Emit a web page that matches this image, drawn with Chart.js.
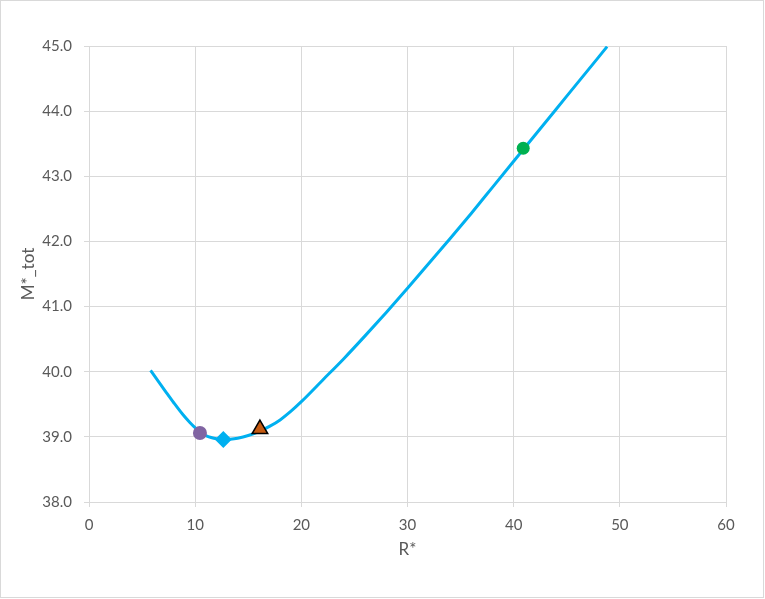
<!DOCTYPE html>
<html>
<head>
<meta charset="utf-8">
<script src="https://cdn.jsdelivr.net/npm/chart.js@4.4.1/dist/chart.umd.min.js"></script>
<style>
  html, body { margin: 0; padding: 0; background: #fff; }
  #wrap { position: relative; width: 765px; height: 599px; }
</style>
</head>
<body>
<div id="wrap"><canvas id="grafico"></canvas></div>
<script>
// curve
var rValues = [5.8, 6.5, 7.2, 8.0, 8.8, 9.5, 10.0, 10.5, 11.0, 11.5, 12.0, 12.65, 13.3, 14.0, 15.0, 16.0, 17.0, 18.0, 19.0, 20.0,
  22.0, 24.0, 26.0, 28.0, 30.0, 32.0, 34.0, 36.0, 38.0, 40.0, 42.0, 44.0, 46.0, 48.0, 48.8];
var mValues = [40.02, 39.86, 39.70, 39.52, 39.35, 39.22, 39.14, 39.065, 39.02, 38.99, 38.97, 38.96, 38.965, 38.98, 39.02, 39.08, 39.16, 39.26, 39.39, 39.54,
  39.87, 40.2, 40.55, 40.91, 41.28, 41.66, 42.04, 42.43, 42.83, 43.23, 43.63, 44.03, 44.43, 44.83, 44.99];

// highlighted points
var pontoRoxo = { x: 10.45, y: 39.06 };
var pontoLosango = { x: 12.65, y: 38.96 };
var pontoTriangulo = { x: 16.1, y: 39.12 };
var pontoVerde = { x: 40.9, y: 43.43 };

var xTicks = [0, 10, 20, 30, 40, 50, 60];
var yTicks = [38, 39, 40, 41, 42, 43, 44, 45];

var curva = rValues.map(function (r, i) { return { x: r, y: mValues[i] }; });

var moldura = {
  id: 'moldura',
  afterDraw: function (chart) {
    var ctx = chart.ctx;
    ctx.save();
    ctx.strokeStyle = '#D9D9D9';
    ctx.lineWidth = 1;
    ctx.strokeRect(0.5, 0.5, 763, 597);
    ctx.restore();
  }
};

document.addEventListener("DOMContentLoaded", function () {
  var cinza = '#595959';
  var grade = '#D9D9D9';

  new Chart(document.getElementById("grafico"), {
    type: 'scatter',
    data: {
      datasets: [
        { data: [pontoRoxo], pointStyle: 'circle', pointRadius: 7, backgroundColor: '#8064A2', borderColor: '#8064A2', borderWidth: 0, showLine: false },
        { data: [pontoLosango], pointStyle: 'rectRot', pointRadius: 8.5, backgroundColor: '#00B0F0', borderColor: '#00B0F0', borderWidth: 0, showLine: false },
        { data: [pontoTriangulo], pointStyle: 'triangle', pointRadius: 9, backgroundColor: '#C55A11', borderColor: '#000000', borderWidth: 1.5, showLine: false },
        { data: [pontoVerde], pointStyle: 'circle', pointRadius: 6.5, backgroundColor: '#00B050', borderColor: '#00B050', borderWidth: 0, showLine: false },
        { data: curva, showLine: true, borderColor: '#00B0F0', borderWidth: 3, pointRadius: 0, cubicInterpolationMode: 'monotone', fill: false }
      ]
    },
    options: {
      responsive: true,
      maintainAspectRatio: false,
      animation: false,
      layout: { padding: { top: 46, right: 39, left: 0, bottom: 0 } },
      plugins: { legend: { display: false }, tooltip: { enabled: false } },
      scales: {
        x: {
          type: 'linear', min: 0, max: 60,
          afterBuildTicks: function (s) { s.ticks = xTicks.map(function (v) { return { value: v }; }); },
          afterFit: function (s) { s.height = 97; },
          grid: { color: grade, tickLength: 5 },
          border: { color: grade },
          ticks: { color: cinza, font: { family: 'Lato', size: 15 }, padding: 9, maxRotation: 0 },
          title: { display: true, text: 'R*', color: cinza, font: { family: 'Lato', size: 17 }, padding: { bottom: 39 } }
        },
        y: {
          type: 'linear', min: 38, max: 45,
          afterBuildTicks: function (s) { s.ticks = yTicks.map(function (v) { return { value: v }; }); },
          afterFit: function (s) { s.width = 89; },
          grid: { color: grade, tickLength: 5 },
          border: { color: grade },
          ticks: { color: cinza, font: { family: 'Lato', size: 15 }, padding: 12, callback: function (v) { return v.toFixed(1); } },
          title: { display: true, text: 'M*_tot', color: cinza, font: { family: 'Lato', size: 17 }, padding: { top: 18 } }
        }
      }
    },
    plugins: [moldura]
  });
});
</script>
</body>
</html>
